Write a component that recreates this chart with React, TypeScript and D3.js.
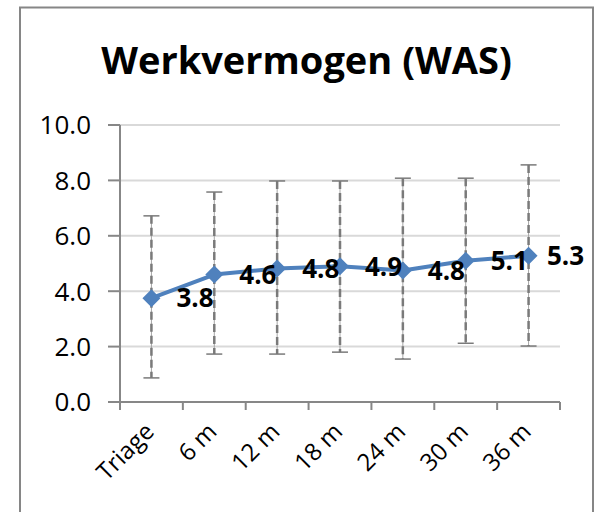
import React from "react";
import * as d3 from "d3";

const categories = ["Triage", "6 m", "12 m", "18 m", "24 m", "30 m", "36 m"];
const meanValues = [3.75, 4.6, 4.82, 4.9, 4.75, 5.1, 5.28];
const lowValues = [0.87, 1.73, 1.73, 1.8, 1.55, 2.12, 2.02];
const highValues = [6.72, 7.58, 7.98, 7.98, 8.08, 8.08, 8.56];
const yTicks = [0, 2, 4, 6, 8, 10];
const title = "Werkvermogen (WAS)";

const W = 599;
const H = 512;
const FONT = "'Open Sans', 'DejaVu Sans', sans-serif";

export default function App() {
  const left = 120;
  const right = 560;
  const top = 125;
  const bottom = 402;
  const x = d3.scaleBand<string>().domain(categories).range([left, right]);
  const y = d3.scaleLinear().domain([0, 10]).range([bottom, top]);
  const cx = (c: string) => (x(c) as number) + x.bandwidth() / 2;

  const line = d3
    .line<number>()
    .x((_, i) => cx(categories[i]))
    .y((d) => y(d));

  const axisColor = "#878787";
  const gridColor = "#d9d9d9";
  const errColor = "#7a7a7a";
  const lineColor = "#4f81bd";
  const borderRight = 593;

  const tickXs = categories.map((c) => x(c) as number).concat([right]);

  return (
    <svg
      width={W}
      height={H}
      style={{ position: "absolute", left: 0, top: 0, background: "#fff" }}
    >
      <rect x={0} y={0} width={W} height={H} fill="#fff" />
      <rect
        x={20}
        y={7.5}
        width={borderRight - 20}
        height={540}
        fill="#fff"
        stroke="#868686"
        strokeWidth={2}
      />
      <text
        x={(20 + borderRight) / 2}
        y={74}
        textAnchor="middle"
        fontFamily={FONT}
        fontWeight="bold"
        fontSize={38}
        fill="#000"
      >
        {title}
      </text>

      {/* gridlines */}
      {yTicks
        .filter((t) => t > 0)
        .map((t) => (
          <line
            key={"g" + t}
            x1={left}
            x2={right}
            y1={y(t)}
            y2={y(t)}
            stroke={gridColor}
            strokeWidth={2}
          />
        ))}

      {/* y axis */}
      <line x1={left} x2={left} y1={top} y2={bottom} stroke={axisColor} strokeWidth={2} />
      {yTicks.map((t) => (
        <g key={"y" + t}>
          <line x1={left - 12} x2={left} y1={y(t)} y2={y(t)} stroke={axisColor} strokeWidth={2} />
          <text
            x={91}
            y={y(t)}
            dy="0.36em"
            textAnchor="end"
            fontFamily={FONT}
            fontSize={26}
            fill="#000"
          >
            {d3.format(".1f")(t)}
          </text>
        </g>
      ))}

      {/* x axis */}
      <line x1={left - 12} x2={right} y1={bottom} y2={bottom} stroke={axisColor} strokeWidth={2} />
      {tickXs.map((tx, i) => (
        <line key={"xt" + i} x1={tx} x2={tx} y1={bottom} y2={bottom + 8} stroke={axisColor} strokeWidth={2} />
      ))}
      {categories.map((c) => (
        <text
          key={"xl" + c}
          transform={`translate(${cx(c) + 4},${433}) rotate(-45)`}
          textAnchor="end"
          fontFamily={FONT}
          fontSize={24}
          fill="#000"
        >
          {c}
        </text>
      ))}

      {/* error bars */}
      {categories.map((c, i) => {
        const px = cx(c);
        return (
          <g key={"e" + c}>
            <line x1={px} x2={px} y1={y(highValues[i])} y2={y(lowValues[i])} stroke="#a6a6a6" strokeWidth={1} />
            <line
              x1={px}
              x2={px}
              y1={y(highValues[i])}
              y2={y(lowValues[i])}
              stroke={errColor}
              strokeWidth={2.5}
              strokeDasharray="8,4"
            />
            <line x1={px - 8} x2={px + 8} y1={y(highValues[i])} y2={y(highValues[i])} stroke={errColor} strokeWidth={1.5} />
            <line x1={px - 8} x2={px + 8} y1={y(lowValues[i])} y2={y(lowValues[i])} stroke={errColor} strokeWidth={1.5} />
          </g>
        );
      })}

      {/* line */}
      <path d={line(meanValues) || ""} fill="none" stroke={lineColor} strokeWidth={4} strokeLinejoin="round" />
      {meanValues.map((v, i) => {
        const px = cx(categories[i]);
        const py = y(v);
        const s = 9;
        return (
          <path
            key={"m" + i}
            d={`M${px},${py - s}L${px + s},${py}L${px},${py + s}L${px - s},${py}Z`}
            fill={lineColor}
          />
        );
      })}

      {/* data labels */}
      {meanValues.map((v, i) => {
        const px = cx(categories[i]);
        const lx = Math.min(px + 25, borderRight - 46);
        return (
          <text
            key={"dl" + i}
            x={lx}
            y={y(v)}
            dy="0.36em"
            fontFamily={FONT}
            fontWeight="bold"
            fontSize={26}
            fill="#000"
          >
            {d3.format(".1f")(v)}
          </text>
        );
      })}
    </svg>
  );
}
